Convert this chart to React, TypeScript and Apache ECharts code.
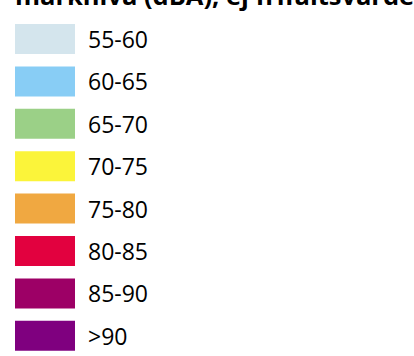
import React, { useEffect, useRef } from "react";
import * as echarts from "echarts";

const title = "marknivå (dBA), ej frifältsvärde";
const categories = ["55-60", "60-65", "65-70", "70-75", "75-80", "80-85", "85-90", ">90"];
const colors = ["#d4e5ed", "#88cdf5", "#9bd087", "#fbf43a", "#f0a841", "#e2013f", "#9d0066", "#7f007f"];
const values = [1, 1, 1, 1, 1, 1, 1, 1];

export default function App() {
  const ref = useRef<HTMLDivElement>(null);
  useEffect(() => {
    if (!ref.current) return;
    const chart = echarts.init(ref.current, null, { renderer: "svg" });
    chart.setOption({
      animation: false,
      legend: {
        orient: "vertical",
        left: 15,
        top: 24,
        height: 340,
        padding: 0,
        icon: "rect",
        itemWidth: 60,
        itemHeight: 30,
        itemGap: 12.4,
        selectedMode: false,
        textStyle: {
          fontFamily: "Open Sans",
          fontSize: 23,
          color: "#000",
          padding: [0, 0, 0, 8],
          lineHeight: 30,
        },
        data: categories,
      },
      series: [
        {
          type: "pie",
          radius: [0, 0],
          center: [-100, -100],
          label: { show: false },
          labelLine: { show: false },
          silent: true,
          data: categories.map((c, i) => ({ name: c, value: values[i], itemStyle: { color: colors[i] } })),
        },
      ],
      graphic: [
        {
          type: "text",
          left: 15,
          top: -18,
          style: {
            text: title,
            fontFamily: "Open Sans",
            fontWeight: "bold",
            fontSize: 25.5,
            fill: "#000",
          },
        },
      ],
    });
    return () => chart.dispose();
  }, []);
  return <div ref={ref} style={{ width: 414, height: 356, position: "fixed", left: 0, top: 0, background: "#fff" }} />;
}
